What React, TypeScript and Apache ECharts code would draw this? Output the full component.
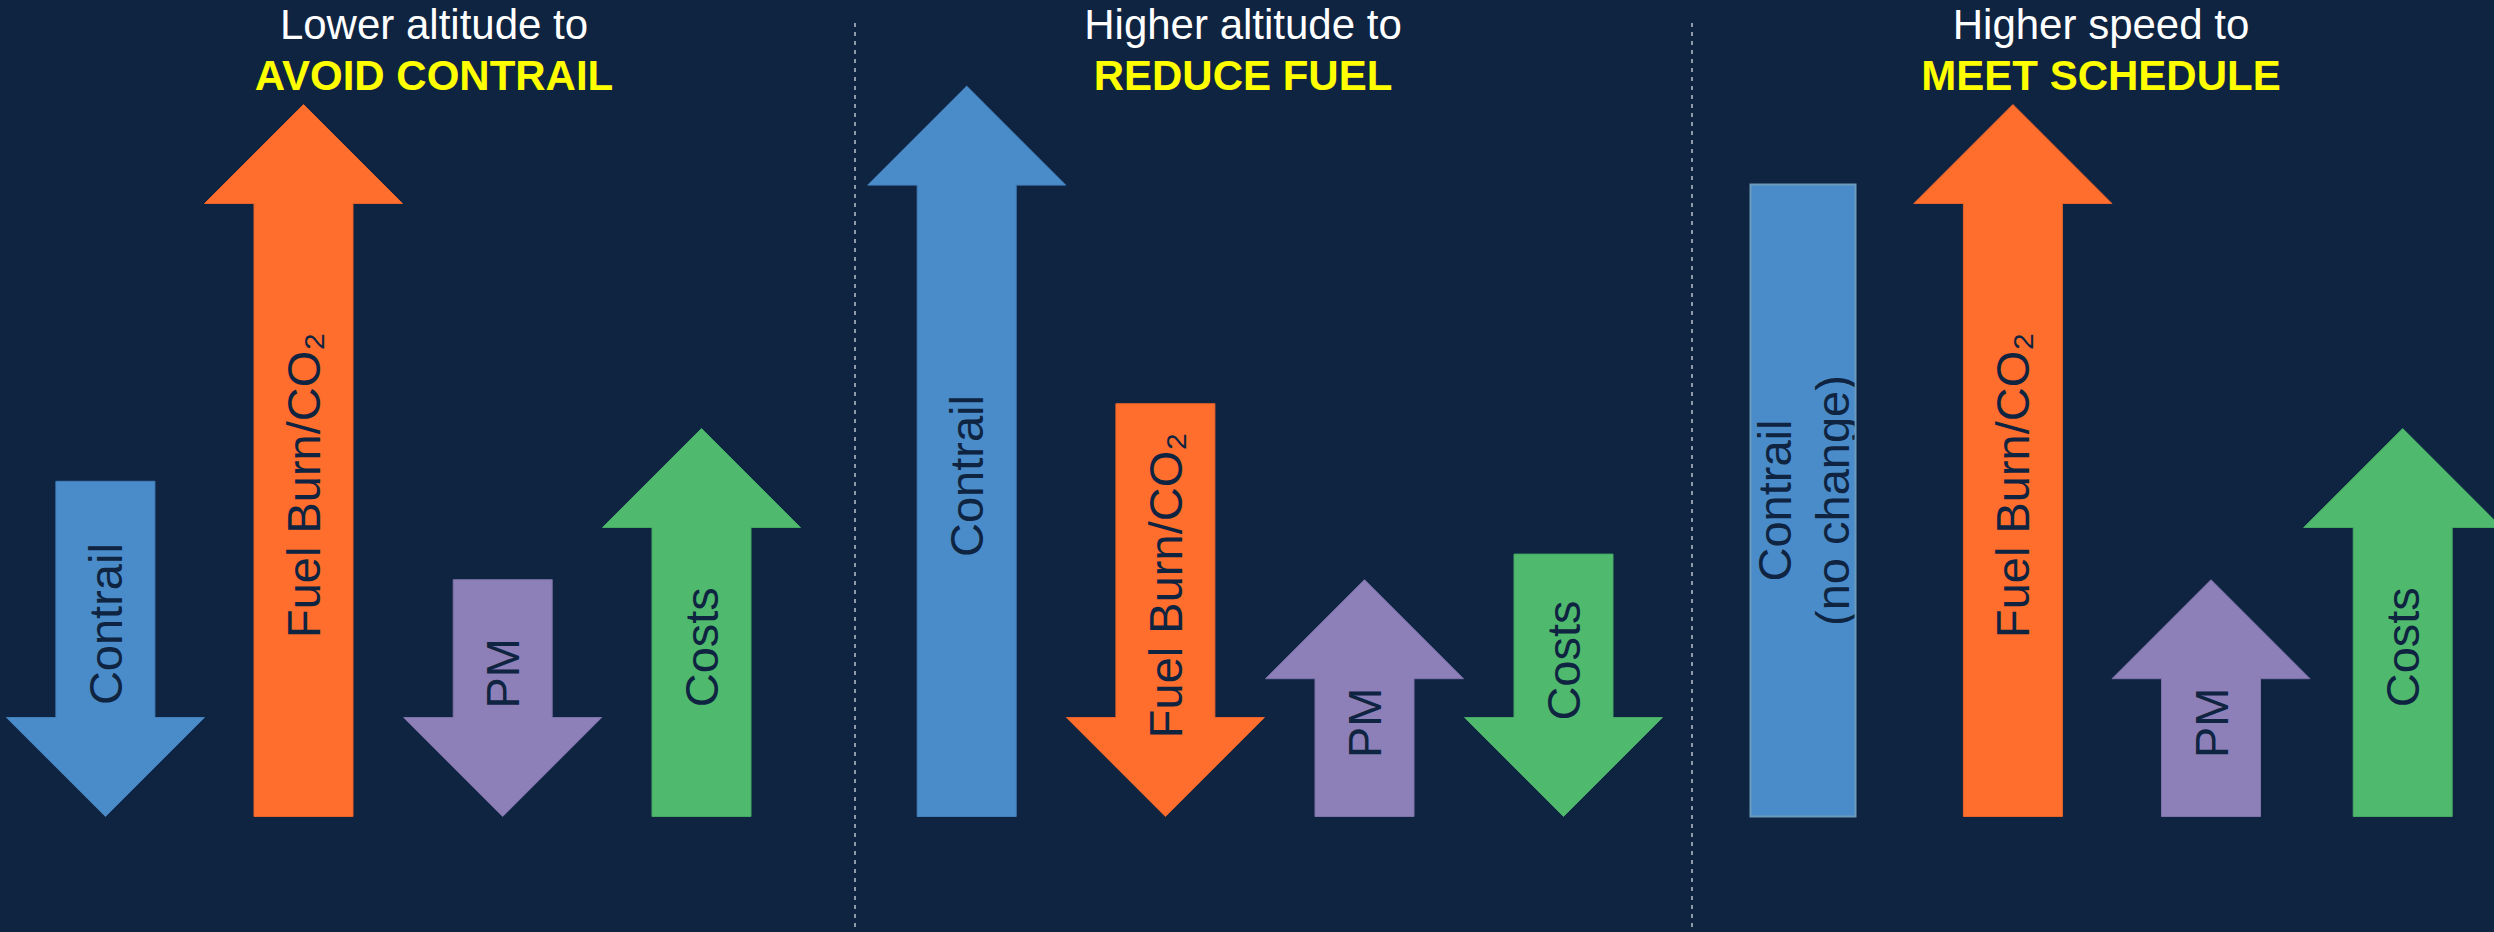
import React, { useEffect, useRef } from "react";
import * as echarts from "echarts";

// Panel headings
const panelLeads = ["Lower altitude to", "Higher altitude to", "Higher speed to"];
const panelGoals = ["AVOID CONTRAIL", "REDUCE FUEL", "MEET SCHEDULE"];
const panelCenters = [434, 1243, 2101];
const panelDividers = [855, 1692];

// Arrows: position along x, magnitude of the effect, direction and metric
const arrowMetrics = [
  "Contrail", "Fuel", "PM", "Costs",
  "Contrail", "Fuel", "PM", "Costs",
  "Contrail", "Fuel", "PM", "Costs",
];
const arrowLabels = [
  "Contrail", "Fuel Burn/CO₂", "PM", "Costs",
  "Contrail", "Fuel Burn/CO₂", "PM", "Costs",
  "Contrail\n(no change)", "Fuel Burn/CO₂", "PM", "Costs",
];
const arrowPositions = [105.4, 303.5, 502.7, 701.5, 966.7, 1165.4, 1364.5, 1563.5, 1803, 2012.9, 2211, 2402.7];
const arrowMagnitudes = [41.9, 89, 29.6, 48.5, 91.3, 51.6, 29.6, 32.8, 79, 89, 29.6, 48.5];
const arrowDirections = ["down", "up", "down", "up", "up", "down", "up", "down", "none", "up", "up", "up"];

const metricFill: Record<string, string> = {
  Contrail: "#4A8CC9",
  Fuel: "#FF6E2C",
  PM: "#8D80B8",
  Costs: "#4FB96E",
};
const metricStroke: Record<string, string> = {
  Contrail: "#4280BC",
  Fuel: "#E8632A",
  PM: "#7E72AA",
  Costs: "#46A963",
};

const BG = "#0F2441";
const FONT = "'Liberation Sans', Arial, sans-serif";
const SHAFT_W = 99;
const HEAD_W = 198;
const HEAD_H = 99;
const BAR_W = 105;

export default function App() {
  const ref = useRef<HTMLDivElement>(null);

  useEffect(() => {
    if (!ref.current) return;
    const chart = echarts.init(ref.current, undefined, { renderer: "svg" });

    const arrowData = arrowPositions.map((x, i) => [x, arrowMagnitudes[i], i]);
    const dividerData = panelDividers.map((x) => [x, 0]);
    const headingData = panelCenters.map((x, i) => [x, 100, i]);

    const option: any = {
      animation: false,
      backgroundColor: BG,
      grid: { left: 0, right: 0, top: 16.5, bottom: 115.5 },
      xAxis: { type: "value", min: 0, max: 2494, show: false },
      yAxis: { type: "value", min: 0, max: 100, show: false },
      series: [
        {
          type: "custom",
          name: "dividers",
          coordinateSystem: "cartesian2d",
          clip: false,
          silent: true,
          encode: { x: 0, y: 1 },
          data: dividerData,
          renderItem: (params: any, api: any) => {
            const px = api.coord([api.value(0), 0])[0];
            return {
              type: "line",
              shape: { x1: px, y1: 23, x2: px, y2: api.getHeight() },
              style: {
                stroke: "rgba(215,222,232,0.85)",
                lineWidth: 1.5,
                lineDash: [4, 5],
              },
            };
          },
        },
        {
          type: "custom",
          name: "headings",
          coordinateSystem: "cartesian2d",
          clip: false,
          silent: true,
          encode: { x: 0, y: 1 },
          data: headingData,
          renderItem: (params: any, api: any) => {
            const px = api.coord([api.value(0), 0])[0];
            const i = api.value(2);
            return {
              type: "group",
              children: [
                {
                  type: "text",
                  x: px,
                  y: 24.5,
                  style: {
                    text: panelLeads[i],
                    fill: "#FFFFFF",
                    fontSize: 42,
                    fontFamily: FONT,
                    align: "center",
                    verticalAlign: "middle",
                  },
                },
                {
                  type: "text",
                  x: px,
                  y: 75.5,
                  style: {
                    text: panelGoals[i],
                    fill: "#FFFF00",
                    fontSize: 42,
                    fontWeight: "bold",
                    fontFamily: FONT,
                    align: "center",
                    verticalAlign: "middle",
                  },
                },
              ],
            };
          },
        },
        {
          type: "custom",
          name: "arrows",
          coordinateSystem: "cartesian2d",
          clip: false,
          encode: { x: 0, y: 1 },
          data: arrowData,
          renderItem: (params: any, api: any) => {
            const i = api.value(2);
            const [cx, yTop] = api.coord([api.value(0), api.value(1)]);
            const yBase = api.coord([api.value(0), 0])[1];
            const dir = arrowDirections[i];
            const metric = arrowMetrics[i];
            const s = SHAFT_W / 2;
            const h = HEAD_W / 2;
            let shape: any;
            let labelY: number;
            let clip: any = undefined;
            if (dir === "up") {
              const hb = yTop + HEAD_H;
              shape = {
                type: "polygon",
                shape: {
                  points: [
                    [cx, yTop], [cx + h, hb], [cx + s, hb], [cx + s, yBase],
                    [cx - s, yBase], [cx - s, hb], [cx - h, hb],
                  ],
                },
                style: { fill: metricFill[metric], stroke: metricStroke[metric], lineWidth: 1 },
              };
              labelY = (yTop + HEAD_H / 2 + yBase) / 2;
            } else if (dir === "down") {
              const hb = yBase - HEAD_H;
              shape = {
                type: "polygon",
                shape: {
                  points: [
                    [cx - s, yTop], [cx + s, yTop], [cx + s, hb], [cx + h, hb],
                    [cx, yBase], [cx - h, hb], [cx - s, hb],
                  ],
                },
                style: { fill: metricFill[metric], stroke: metricStroke[metric], lineWidth: 1 },
              };
              labelY = (yTop + yBase - HEAD_H / 2) / 2;
            } else {
              const rectShape = { x: cx - BAR_W / 2, y: yTop, width: BAR_W, height: yBase - yTop };
              shape = {
                type: "rect",
                shape: rectShape,
                style: { fill: metricFill[metric], stroke: "#6C9CBD", lineWidth: 2 },
              };
              clip = { type: "rect", shape: { ...rectShape, width: rectShape.width - 1 } };
              labelY = (yTop + yBase) / 2;
            }
            const label = {
              type: "text",
              x: cx,
              y: labelY,
              rotation: Math.PI / 2,
              style: {
                text: arrowLabels[i],
                fill: BG,
                fontSize: 47,
                lineHeight: 58,
                fontFamily: FONT,
                align: "center",
                verticalAlign: "middle",
              },
            };
            const labelGroup: any = { type: "group", children: [label] };
            if (clip) labelGroup.clipPath = clip;
            return {
              type: "group",
              children: [shape, labelGroup],
            };
          },
        },
      ],
    };

    chart.setOption(option);
    return () => chart.dispose();
  }, []);

  return (
    <div
      ref={ref}
      style={{ position: "fixed", left: 0, top: 0, width: 2494, height: 932 }}
    />
  );
}
